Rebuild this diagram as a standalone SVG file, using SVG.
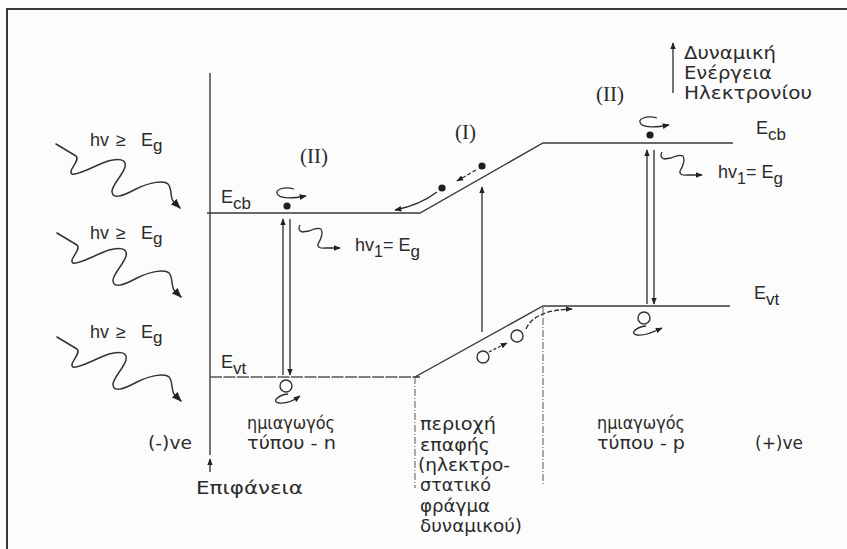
<svg xmlns="http://www.w3.org/2000/svg" width="847" height="549" viewBox="0 0 847 549">
<defs>
<style>
.ln{stroke:#2b2b2b;stroke-width:1.3;fill:none}
.band{stroke:#3a3a3a;stroke-width:1.4;fill:none}
.dsh{stroke:#666;stroke-width:1.1;fill:none;stroke-dasharray:7 2 1 2}
.wv{stroke:#333;stroke-width:1.5;fill:none;stroke-linejoin:round;stroke-linecap:round}
.t{font-family:"DejaVu Sans","Liberation Sans",sans-serif;font-size:18px;fill:#2b2b2b}
.s{font-family:"Liberation Sans",Arial,sans-serif;font-size:18px;fill:#2b2b2b}
.r{font-family:"Liberation Serif","Times New Roman",serif;font-size:21px;fill:#2b2b2b}
.el{fill:#1e1e1e}
.hole{fill:none;stroke:#333;stroke-width:1.4}
</style>
<marker id="ah" viewBox="0 0 10 8" refX="9" refY="4" markerWidth="10" markerHeight="8" markerUnits="userSpaceOnUse" orient="auto"><path d="M0,0 L10,4 L0,8 z" fill="#222"/></marker>
<marker id="as" viewBox="0 0 10 8" refX="9" refY="4" markerWidth="7" markerHeight="6" markerUnits="userSpaceOnUse" orient="auto"><path d="M0,0 L10,4 L0,8 z" fill="#222"/></marker>
</defs>
<rect width="847" height="549" fill="#fcfcfc"/>
<rect id="frame" x="7" y="9" width="850" height="552" fill="none" stroke="#3a3a3a" stroke-width="2"/>

<g id="bands">
<line class="ln" x1="210" y1="73" x2="210" y2="455"/>
<path class="band" d="M207,213 L420,213 L543,143 L733,143"/>
<path class="band" d="M420,377 L415,377 L543,306 L730,306"/>
<line x1="210" y1="377" x2="415" y2="377" stroke="#555" stroke-width="1.3" stroke-dasharray="12 1.5"/>
<line class="dsh" x1="415" y1="377" x2="415" y2="488"/>
<line class="dsh" x1="543" y1="306" x2="543" y2="486"/>
</g>

<g id="photons-in">
<path class="wv" transform="translate(56,144)" marker-end="url(#ah)" d="M0,0 L20,12 C25,16 11,27 16,30 C21,32 40,21 52,17 C62,14 71,15 69,23 C67,31 55,42 56,48 C57,55 65,53 80,45 C94,38 108,36 112,40 C116,44 114,52 117,57 L124,64"/>
<path class="wv" transform="translate(57,233)" marker-end="url(#ah)" d="M0,0 L20,12 C25,16 11,27 16,30 C21,32 40,21 52,17 C62,14 71,15 69,23 C67,31 55,42 56,48 C57,55 65,53 80,45 C94,38 108,36 112,40 C116,44 114,52 117,57 L124,64"/>
<path class="wv" transform="translate(57,337)" marker-end="url(#ah)" d="M0,0 L20,12 C25,16 11,27 16,30 C21,32 40,21 52,17 C62,14 71,15 69,23 C67,31 55,42 56,48 C57,55 65,53 80,45 C94,38 108,36 112,40 C116,44 114,52 117,57 L124,64"/>
</g>

<g id="n-region">
<line class="ln" x1="283" y1="375" x2="283" y2="219" marker-end="url(#as)"/>
<line class="ln" x1="290" y1="219" x2="290" y2="375" marker-end="url(#as)"/>
<circle class="el" cx="287" cy="206" r="3.6"/>
<path class="ln" d="M294,189 C284,186 273,190 278,195 C282,199 295,198 306,196" marker-end="url(#as)"/>
<circle class="hole" cx="286" cy="386" r="6"/>
<path class="ln" d="M288,394 C278,395 271,402 279,403 C286,404 293,401 300,396" marker-end="url(#as)"/>
<path class="ln" d="M300,225 Q297,230 302,232 L309,231 Q317,227 321,229 Q324,234 318,244 Q317,249 326,248 L340,248" marker-end="url(#as)"/>
</g>

<g id="junction">
<line class="ln" x1="482" y1="332" x2="482" y2="187" marker-end="url(#as)"/>
<circle class="el" cx="482" cy="166" r="3.6"/>
<circle class="el" cx="442" cy="188" r="3.6"/>
<path class="ln" d="M476,170 L457,181" stroke-dasharray="4 2" marker-end="url(#as)"/>
<path class="ln" d="M437,192 Q420,205 395,210" marker-end="url(#as)"/>
<circle class="hole" cx="483" cy="357" r="6"/>
<circle class="hole" cx="517" cy="336" r="6"/>
<path class="ln" d="M489,352 L507,343" stroke-dasharray="3 2" marker-end="url(#as)"/>
<path class="ln" d="M526,329 Q534,310 572,309" stroke-dasharray="5 2" marker-end="url(#as)"/>
</g>

<g id="p-region">
<line class="ln" x1="647" y1="304" x2="647" y2="150" marker-end="url(#as)"/>
<line class="ln" x1="654" y1="150" x2="654" y2="304" marker-end="url(#as)"/>
<circle class="el" cx="650" cy="135" r="3.6"/>
<path class="ln" d="M657,118 C647,115 636,119 641,124 C645,128 658,127 669,125" marker-end="url(#as)"/>
<circle class="hole" cx="644" cy="318" r="6"/>
<path class="ln" d="M646,326 C636,327 629,334 637,335 C644,336 651,333 662,328" marker-end="url(#as)"/>
<path class="ln" d="M662,152 Q659,157 664,159 L671,158 Q679,154 683,156 Q686,161 680,171 Q679,176 688,175 L702,175" marker-end="url(#as)"/>
</g>

<g id="legend">
<line class="ln" x1="673" y1="93" x2="673" y2="43" marker-end="url(#as)"/>
<text class="t" x="684" y="59" textLength="92" lengthAdjust="spacingAndGlyphs">Δυναμική</text>
<text class="t" x="684" y="79" textLength="88" lengthAdjust="spacingAndGlyphs">Ενέργεια</text>
<text class="t" x="684" y="99" textLength="128" lengthAdjust="spacingAndGlyphs">Ηλεκτρονίου</text>
</g>

<g id="labels">
<text class="r" x="300" y="163">(II)</text>
<text class="r" x="455" y="139">(I)</text>
<text class="r" x="596" y="101">(II)</text>

<text class="s" x="90" y="146">hv</text><text class="s" x="116" y="146">≥</text><text class="s" x="141" y="146">E<tspan font-size="17" dy="5">g</tspan></text>
<text class="s" x="90" y="239">hv</text><text class="s" x="116" y="239">≥</text><text class="s" x="141" y="239">E<tspan font-size="17" dy="5">g</tspan></text>
<text class="s" x="90" y="338">hv</text><text class="s" x="116" y="338">≥</text><text class="s" x="141" y="338">E<tspan font-size="17" dy="5">g</tspan></text>

<text class="s" x="221" y="203">E<tspan font-size="17" dy="6">cb</tspan></text>
<text class="s" x="221" y="368">E<tspan font-size="17" dy="6">vt</tspan></text>
<text class="s" x="756" y="134">E<tspan font-size="17" dy="6">cb</tspan></text>
<text class="s" x="754" y="299">E<tspan font-size="17" dy="6">vt</tspan></text>

<text class="s" x="355" y="251">hv<tspan font-size="16" dy="6">1</tspan><tspan dy="-6">= E</tspan><tspan font-size="17" dy="6">g</tspan></text>
<text class="s" x="718" y="178">hv<tspan font-size="16" dy="6">1</tspan><tspan dy="-6">= E</tspan><tspan font-size="17" dy="6">g</tspan></text>

<text class="t" x="148" y="449" textLength="44" lengthAdjust="spacingAndGlyphs">(-)ve</text>
<text class="t" x="247" y="429" textLength="88" lengthAdjust="spacingAndGlyphs">ημιαγωγός</text>
<text class="t" x="247" y="449" textLength="89" lengthAdjust="spacingAndGlyphs">τύπου - n</text>
<line class="ln" x1="210" y1="472" x2="210" y2="459" marker-end="url(#as)"/>
<text class="t" x="196" y="494" textLength="107" lengthAdjust="spacingAndGlyphs">Επιφάνεια</text>

<text class="t" x="420" y="430" textLength="76" lengthAdjust="spacingAndGlyphs">περιοχή</text>
<text class="t" x="420" y="451" textLength="70" lengthAdjust="spacingAndGlyphs">επαφής</text>
<text class="t" x="418" y="471" textLength="92" lengthAdjust="spacingAndGlyphs">(ηλεκτρο-</text>
<text class="t" x="420" y="491" textLength="71" lengthAdjust="spacingAndGlyphs">στατικό</text>
<text class="t" x="420" y="512" textLength="70" lengthAdjust="spacingAndGlyphs">φράγμα</text>
<text class="t" x="420" y="532" textLength="102" lengthAdjust="spacingAndGlyphs">δυναμικού)</text>

<text class="t" x="597" y="429" textLength="88" lengthAdjust="spacingAndGlyphs">ημιαγωγός</text>
<text class="t" x="597" y="449" textLength="88" lengthAdjust="spacingAndGlyphs">τύπου - p</text>
<text class="t" x="755" y="449" textLength="48" lengthAdjust="spacingAndGlyphs">(+)ve</text>
</g>
</svg>
